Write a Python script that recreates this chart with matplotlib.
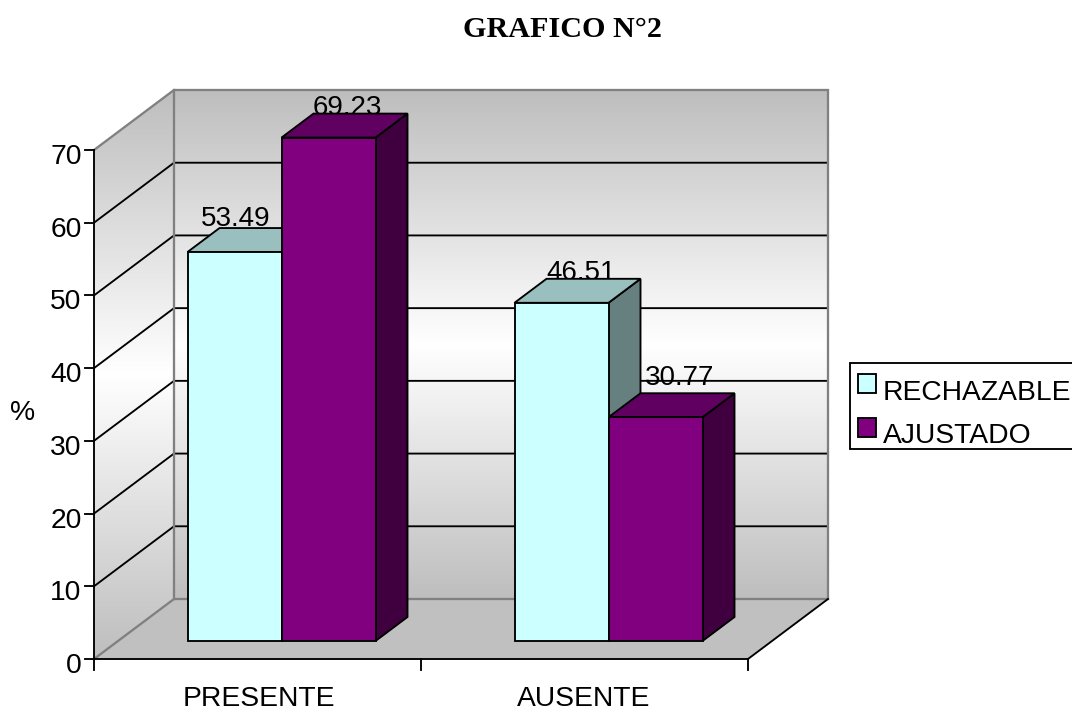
#!/usr/bin/env python3
"""GRAFICO N°2: oblique 3D column chart drawn on a pixel-sized axes."""

import matplotlib

matplotlib.use("Agg")
import matplotlib.pyplot as plt
import numpy as np
from matplotlib.colors import LinearSegmentedColormap
from matplotlib.patches import Polygon, Rectangle

CATEGORIES = ["PRESENTE", "AUSENTE"]
SERIES = ["RECHAZABLE", "AJUSTADO"]
RECHAZABLE = [53.49, 46.51]
AJUSTADO = [69.23, 30.77]
Y_TICKS = [0, 10, 20, 30, 40, 50, 60, 70]
TITLE = "GRAFICO N°2"
Y_LABEL = "%"

# projection of the fake 3D box, in image pixels
X0, Y0 = 94, 659
CAT_W = 327
UNIT = 509 / 70
DX, DY = 80, -60

FACES = {
    "RECHAZABLE": ("#CCFFFF", "#99BFBF", "#668080"),
    "AJUSTADO": ("#800080", "#600060", "#400040"),
}
GRAY = "#808080"
LW = 1.35
SANS = "Liberation Sans"
FS = 20.3


def proj(cat, value, depth):
    return X0 + cat * CAT_W + depth * DX, Y0 - value * UNIT + depth * DY


def face(ax, pts, color, z):
    ax.add_patch(Polygon(pts, closed=True, facecolor=color, edgecolor="black",
                         linewidth=LW, joinstyle="miter", zorder=z))


def bar(ax, left, width, value, colors, z):
    front, top, side = colors
    d0, d1 = 0.3, 0.7
    right = left + width
    face(ax, [proj(right, 0, d0), proj(right, 0, d1), proj(right, value, d1), proj(right, value, d0)], side, z)
    face(ax, [proj(left, value, d0), proj(right, value, d0), proj(right, value, d1), proj(left, value, d1)], top, z)
    face(ax, [proj(left, 0, d0), proj(right, 0, d0), proj(right, value, d0), proj(left, value, d0)], front, z)


def wall(ax, cmap, corners):
    # gradient runs straight down the image over the wall's bounding box
    xs, ys = zip(*corners)
    grad = np.linspace(0, 1, 256)[:, None]
    im = ax.imshow(grad, cmap=cmap, aspect="auto", extent=[min(xs), max(xs), max(ys), min(ys)],
                   origin="upper", zorder=1, interpolation="bilinear")
    clip = Polygon(corners, closed=True, transform=ax.transData)
    im.set_clip_path(clip)


def main():
    fig = plt.figure(figsize=(10.72, 7.12), dpi=100)
    ax = fig.add_axes([0, 0, 1, 1])
    ax.axis("off")

    cmap = LinearSegmentedColormap.from_list("wall", ["#BEBEBE", "#FFFFFF", "#BEBEBE"])
    top = Y_TICKS[-1]

    wall(ax, cmap, [proj(0, 0, 1), proj(2, 0, 1), proj(2, top, 1), proj(0, top, 1)])
    wall(ax, cmap, [proj(0, 0, 0), proj(0, 0, 1), proj(0, top, 1), proj(0, top, 0)])

    # floor
    ax.add_patch(Polygon([proj(0, 0, 0), proj(2, 0, 0), proj(2, 0, 1), proj(0, 0, 1)],
                         closed=True, facecolor="#C0C0C0", edgecolor="none", zorder=1))

    # gridlines
    for v in Y_TICKS[1:-1]:
        pts = [proj(0, v, 0), proj(0, v, 1), proj(2, v, 1)]
        ax.plot(*zip(*pts), color="black", lw=LW, zorder=2, solid_joinstyle="miter")

    # wall outline
    for pts in (
        [proj(0, top, 0), proj(0, top, 1), proj(2, top, 1), proj(2, 0, 1), proj(0, 0, 1), proj(0, 0, 0)],
        [proj(0, top, 1), proj(0, 0, 1)],
    ):
        ax.plot(*zip(*pts), color=GRAY, lw=LW + 0.3, zorder=3, solid_joinstyle="miter")
    ax.plot(*zip(proj(2, 0, 1), proj(2, 0, 0)), color="black", lw=LW, zorder=3)

    # axes and ticks
    ax.plot(*zip(proj(0, 0, 0), proj(0, top, 0)), color="black", lw=LW, zorder=4)
    ax.plot(*zip(proj(0, 0, 0), proj(2, 0, 0)), color="black", lw=LW, zorder=4)
    for v in Y_TICKS:
        px, py = proj(0, v, 0)
        ax.plot([px - 9, px], [py, py], color="black", lw=LW, zorder=4)
        ax.text(px - 12.5, py + 4, str(v), ha="right", va="center_baseline", family=SANS, fontsize=FS)
    for c in range(len(CATEGORIES) + 1):
        px, py = proj(c, 0, 0)
        ax.plot([px, px], [py, py + 11], color="black", lw=LW, zorder=4)
    for c, name in enumerate(CATEGORIES):
        px, py = proj(c + 0.5, 0, 0)
        ax.text(px + 1 - 2 * c, 706, name, ha="center", va="baseline", family=SANS, fontsize=FS)

    # bars and their value labels
    bar_w = 94 / CAT_W
    gap = (1 - 2 * bar_w) / 2
    label_shift = [[1, 19], [20, 24]]
    label_lift = [[-2, 1], [1, -8]]
    for c in range(len(CATEGORIES)):
        for s, (name, values) in enumerate(zip(SERIES, (RECHAZABLE, AJUSTADO))):
            left = c + gap + s * bar_w
            bar(ax, left, bar_w, values[c], FACES[name], 5 + s)
            px, py = proj(left + bar_w / 2, values[c], 0.3)
            ax.text(px + label_shift[c][s], py - 24 + label_lift[c][s], f"{values[c]:.2f}",
                    ha="center", va="baseline", family=SANS, fontsize=20, zorder=4.5)

    # legend, the box runs off the right edge in the reference
    ax.add_patch(Rectangle((850, 363), 240, 86, facecolor="white", edgecolor="black", linewidth=LW, zorder=6))
    for name, swatch_y, base_y in zip(SERIES, (374, 418), (400, 443)):
        ax.add_patch(Rectangle((858, swatch_y), 18, 18.5, facecolor=FACES[name][0], edgecolor="black",
                               linewidth=LW, zorder=7))
        ax.text(883, base_y, name, ha="left", va="baseline", family=SANS, fontsize=FS, zorder=7)

    ax.text(22.5, 419.5, Y_LABEL, ha="center", va="baseline", family=SANS, fontsize=FS)
    ax.text(562, 37, TITLE, ha="center", va="baseline", family="Liberation Serif",
            fontweight="bold", fontsize=21.7)

    ax.set_xlim(0, 1072)
    ax.set_ylim(712, 0)
    fig.savefig("out.png", dpi=100)
    plt.close(fig)


if __name__ == "__main__":
    main()
